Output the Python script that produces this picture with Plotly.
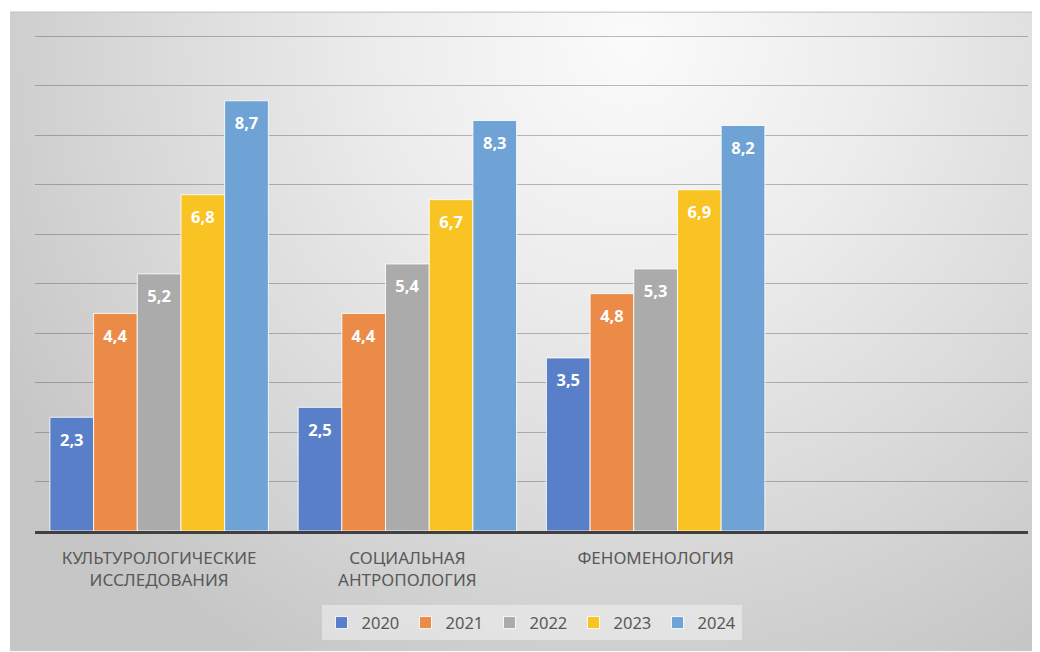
import base64
import plotly.graph_objects as go

categories = ["КУЛЬТУРОЛОГИЧЕСКИЕ<br>ИССЛЕДОВАНИЯ", "СОЦИАЛЬНАЯ<br>АНТРОПОЛОГИЯ", "ФЕНОМЕНОЛОГИЯ"]
years = ["2020", "2021", "2022", "2023", "2024"]
v2020 = [2.3, 2.5, 3.5]
v2021 = [4.4, 4.4, 4.8]
v2022 = [5.2, 5.4, 5.3]
v2023 = [6.8, 6.7, 6.9]
v2024 = [8.7, 8.3, 8.2]
series = [v2020, v2021, v2022, v2023, v2024]
colors = ["#5a7fc9", "#ec8a48", "#ababab", "#f9c324", "#6fa3d6"]

FONT = "Noto Sans"

# gradient background as an SVG image
svg = (
    '<svg xmlns="http://www.w3.org/2000/svg" width="1030" height="641">'
    '<defs><radialGradient id="g" gradientUnits="userSpaceOnUse" cx="620" cy="30" r="720">'
    '<stop offset="0" stop-color="#fbfbfb"/>'
    '<stop offset="0.35" stop-color="#ececec"/>'
    '<stop offset="0.7" stop-color="#d8d8d8"/>'
    '<stop offset="1" stop-color="#c6c6c6"/>'
    '</radialGradient></defs>'
    '<rect x="0" y="0" width="1030" height="641" fill="url(#g)"/>'
    '<line x1="0" y1="0.5" x2="1030" y2="0.5" stroke="#c4c4c4" stroke-width="1.5"/>'
    '</svg>'
)
src = "data:image/svg+xml;base64," + base64.b64encode(svg.encode()).decode()

fig = go.Figure()
for name, vals, col in zip(years, series, colors):
    fig.add_trace(go.Bar(
        x=categories, y=vals, name=name,
        marker=dict(color=col, line=dict(color="rgba(255,255,255,0.85)", width=1)),
        texttemplate="<span style='font-size:4px'>\u00a0</span><br>%{y:.1f}",
        textposition="inside", insidetextanchor="end",
        textfont=dict(family=FONT, size=16.5, color="white", weight="bold"),
        constraintext="none",
        hoverinfo="skip",
    ))

fig.update_layout(
    width=1040, height=652,
    margin=dict(l=27, r=20, t=25.5, b=128.5),
    paper_bgcolor="white", plot_bgcolor="rgba(0,0,0,0)",
    separators=", ",
    barmode="group", bargap=0.12, bargroupgap=0,
    font=dict(family=FONT, color="#595959", size=17),
    showlegend=True,
    legend=dict(
        orientation="h", x=0.5, xanchor="center", y=-0.1496, yanchor="top",
        bgcolor="rgba(255,255,255,0.4)", font=dict(size=16.5, color="#595959"),
        itemwidth=30, traceorder="normal",
        entrywidth=39, entrywidthmode="pixels",
    ),
    images=[dict(
        source=src, xref="paper", yref="paper",
        x=-0.02518, y=1.04518, sizex=1.03726, sizey=1.28715,
        xanchor="left", yanchor="top", sizing="stretch", layer="below",
    )],
)
fig.update_xaxes(
    type="category", categoryorder="array", categoryarray=categories,
    range=[-0.5, 3.5], showgrid=False, ticks="", showline=True,
    linecolor="#404040", linewidth=2.5,
    tickfont=dict(family=FONT, size=17, color="#595959"),
    ticklabelstandoff=10,
)
fig.update_yaxes(
    range=[0, 10.05], dtick=1, showgrid=True, gridcolor="rgba(80,80,80,0.38)", gridwidth=1.3,
    showticklabels=False, zeroline=False, ticks="",
)
fig.write_html("out.html")
